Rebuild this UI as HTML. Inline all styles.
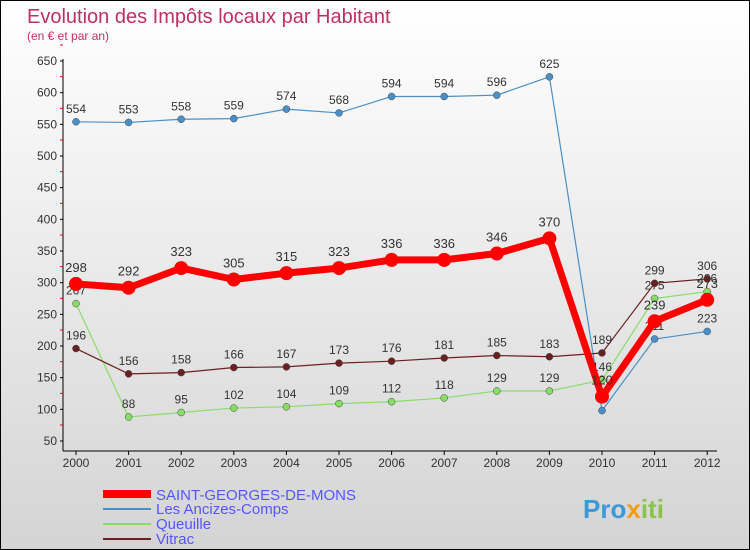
<!DOCTYPE html>
<html><head><meta charset="utf-8"><style>
body{margin:0}
#c{width:748px;height:548px;border:1px solid #000;background:linear-gradient(#fff,#d4d4d4);position:relative;font-family:"Liberation Sans",sans-serif;overflow:hidden}
text{font-family:"Liberation Sans",sans-serif}
</style></head><body>
<div id="c">
<svg id="s" width="748" height="548">
<text x="26" y="22" font-size="20" fill="#c0305e">Evolution des Impôts locaux par Habitant</text>
<text x="26" y="39" font-size="12" fill="#c0305e">(en € et par an)</text>
<g id="axes"></g><g id="series"></g>
<g>
<line x1="102" y1="493" x2="150" y2="493" stroke="#f00" stroke-width="8"/>
<text x="155" y="499" font-size="15" fill="#5555ff">SAINT-GEORGES-DE-MONS</text>
<line x1="102" y1="508" x2="150" y2="508" stroke="#4a90c8" stroke-width="2"/>
<text x="155" y="513" font-size="15" fill="#5555ff">Les Ancizes-Comps</text>
<line x1="102" y1="523" x2="150" y2="523" stroke="#88dd66" stroke-width="2"/>
<text x="155" y="528" font-size="15" fill="#5555ff">Queuille</text>
<line x1="102" y1="538" x2="150" y2="538" stroke="#6b2020" stroke-width="2"/>
<text x="155" y="543" font-size="15" fill="#5555ff">Vitrac</text>
</g>
<text x="582" y="517" font-size="26" font-weight="bold" fill="#3a9ad9">Pro<tspan fill="#f39c12">x</tspan><tspan fill="#8bc34a">iti</tspan></text>
</svg></div>
<script>
const years=["2000","2001","2002","2003","2004","2005","2006","2007","2008","2009","2010","2011","2012"];
const yTicks=[50,100,150,200,250,300,350,400,450,500,550,600,650];
const sgm=[298,292,323,305,315,323,336,336,346,370,120,239,273];
const ancizes=[554,553,558,559,574,568,594,594,596,625,98,211,223];
const queuille=[267,88,95,102,104,109,112,118,129,129,146,275,286];
const vitrac=[196,156,158,166,167,173,176,181,185,183,189,299,306];
const NS="http://www.w3.org/2000/svg";
const xs=i=>75+i*52.6, ys=v=>440-(v-50)*380/600;
function mk(t,a,p){const e=document.createElementNS(NS,t);for(const k in a)e.setAttribute(k,a[k]);p.appendChild(e);return e;}
const ax=document.getElementById('axes'), sg=document.getElementById('series');
let l=mk('line',{x1:62,y1:58,x2:62,y2:450,stroke:'#000'},ax);

l=mk('line',{x1:62,y1:450,x2:716,y2:450,stroke:'#000'},ax);

yTicks.forEach(v=>{const y=ys(v);
 mk('line',{x1:59,y1:y,x2:62,y2:y,stroke:'#000'},ax);
 mk('line',{x1:59,y1:y-16,x2:62,y2:y-16,stroke:'#f00'},ax);
 const t=mk('text',{x:56,y:y+4,'font-size':12,'text-anchor':'end',fill:'#333'},ax);t.textContent=v;
 });
years.forEach((yr,i)=>{const x=xs(i);
 mk('line',{x1:x,y1:450,x2:x,y2:454,stroke:'#000'},ax);
 const t=mk('text',{x:x,y:466,'font-size':12,'text-anchor':'middle',fill:'#333'},ax);t.textContent=yr;
 });
function draw(arr,col,w,r,name,fs,dy){
 const g=mk('g',{},sg);
 const p=mk('polyline',{points:arr.map((v,i)=>xs(i)+','+ys(v)).join(' '),fill:'none',stroke:col,'stroke-width':w,'stroke-linejoin':'round'},g);
 
 arr.forEach((v,i)=>{const c=mk('circle',{cx:xs(i),cy:ys(v),r:r,fill:col,stroke:r>4?'none':'#444','stroke-width':0.5},g);
  
  const t=mk('text',{x:xs(i),y:ys(v)-dy,'font-size':fs,'text-anchor':'middle',fill:'#333'},g);t.textContent=v;
  });
}
draw(ancizes,'#4a90c8',1.2,3.5,'les-ancizes',12,9);
draw(queuille,'#88dd66',1.2,3.5,'queuille',12,9);
draw(vitrac,'#6b2020',1.2,3.5,'vitrac',12,9);
draw(sgm,'#f00',7,7,'saint-georges',13,12);
</script></body></html>
